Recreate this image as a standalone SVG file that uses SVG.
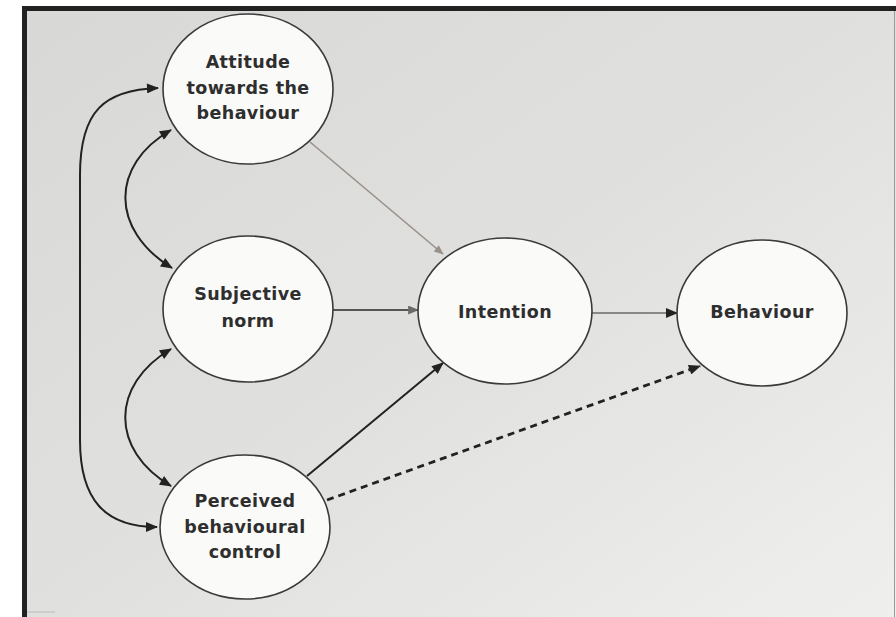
<svg xmlns="http://www.w3.org/2000/svg" width="896" height="617" viewBox="0 0 896 617">
<defs>
<linearGradient id="bg" x1="0" y1="0" x2="1" y2="1">
<stop offset="0" stop-color="#d8d8d6"/>
<stop offset="0.5" stop-color="#e0e0de"/>
<stop offset="1" stop-color="#efefed"/>
</linearGradient>
<marker id="ah" viewBox="0 0 12 10" refX="11" refY="5" markerWidth="13" markerHeight="10" markerUnits="userSpaceOnUse" orient="auto-start-reverse">
<path d="M0,0 L12,5 L0,10 Z" fill="#222"/>
</marker>
<marker id="ahg" viewBox="0 0 12 10" refX="11" refY="5" markerWidth="13" markerHeight="9" markerUnits="userSpaceOnUse" orient="auto">
<path d="M0,0 L12,5 L0,10 Z" fill="#6a6a6a"/>
</marker>
<marker id="ahl" viewBox="0 0 12 10" refX="11" refY="5" markerWidth="12" markerHeight="8" markerUnits="userSpaceOnUse" orient="auto">
<path d="M0,0 L12,5 L0,10 Z" fill="#9a918a"/>
</marker>
</defs>
<style>
.node ellipse{fill:#fafaf9;stroke:#3a3a3a;stroke-width:1.6}
.node text{font-family:"DejaVu Sans","Verdana",sans-serif;font-weight:bold;font-size:17.5px;fill:#2e2e2e;text-anchor:middle;letter-spacing:0.4px}
.c{fill:none;stroke:#222;stroke-width:2}
</style>
<rect x="0" y="0" width="896" height="617" fill="#ffffff"/>
<rect x="22" y="6" width="874" height="611" fill="url(#bg)"/>
<rect x="22" y="6" width="874" height="5" fill="#222"/>
<rect x="22" y="6" width="5" height="611" fill="#222"/>
<line x1="894.5" y1="11" x2="894.5" y2="617" stroke="#9a9a9a" stroke-width="1"/>
<line x1="27" y1="612" x2="55" y2="612" stroke="#bbb" stroke-width="1"/>

<g id="connectors">
<path class="c" d="M 158 88 C 105 90, 80 110, 80 175 L 80 440 C 80 500, 105 527, 157 527" marker-start="url(#ah)" marker-end="url(#ah)"/>
<path class="c" d="M 171 130 C 110 165, 110 230, 172 268" marker-start="url(#ah)" marker-end="url(#ah)"/>
<path class="c" d="M 171 349 C 110 385, 110 450, 171 486" marker-start="url(#ah)" marker-end="url(#ah)"/>
<line x1="310" y1="142" x2="443" y2="254" stroke="#9a918a" stroke-width="1.6" marker-end="url(#ahl)"/>
<line x1="333" y1="310" x2="418" y2="310" stroke="#555" stroke-width="2.2" marker-end="url(#ahg)"/>
<line x1="592" y1="313" x2="677" y2="313" stroke="#6a6a6a" stroke-width="1.6" marker-end="url(#ah)"/>
<line x1="307" y1="476" x2="443" y2="363" stroke="#222" stroke-width="2" marker-end="url(#ah)"/>
<line x1="327" y1="500" x2="700" y2="366" stroke="#222" stroke-width="2.8" stroke-dasharray="7,5" marker-end="url(#ah)"/>
</g>

<g id="attitude" class="node">
<ellipse cx="248" cy="89" rx="85" ry="75"/>
<text x="248" y="68">Attitude</text>
<text x="248" y="94">towards the</text>
<text x="248" y="119">behaviour</text>
</g>
<g id="subjective" class="node">
<ellipse cx="248" cy="309" rx="85" ry="73"/>
<text x="248" y="300">Subjective</text>
<text x="248" y="327">norm</text>
</g>
<g id="perceived" class="node">
<ellipse cx="245" cy="527" rx="85" ry="72"/>
<text x="245" y="507">Perceived</text>
<text x="245" y="533">behavioural</text>
<text x="245" y="558">control</text>
</g>
<g id="intention" class="node">
<ellipse cx="505" cy="311" rx="87" ry="73"/>
<text x="505" y="318">Intention</text>
</g>
<g id="behaviour" class="node">
<ellipse cx="762" cy="313" rx="85" ry="73"/>
<text x="762" y="318">Behaviour</text>
</g>
</svg>
